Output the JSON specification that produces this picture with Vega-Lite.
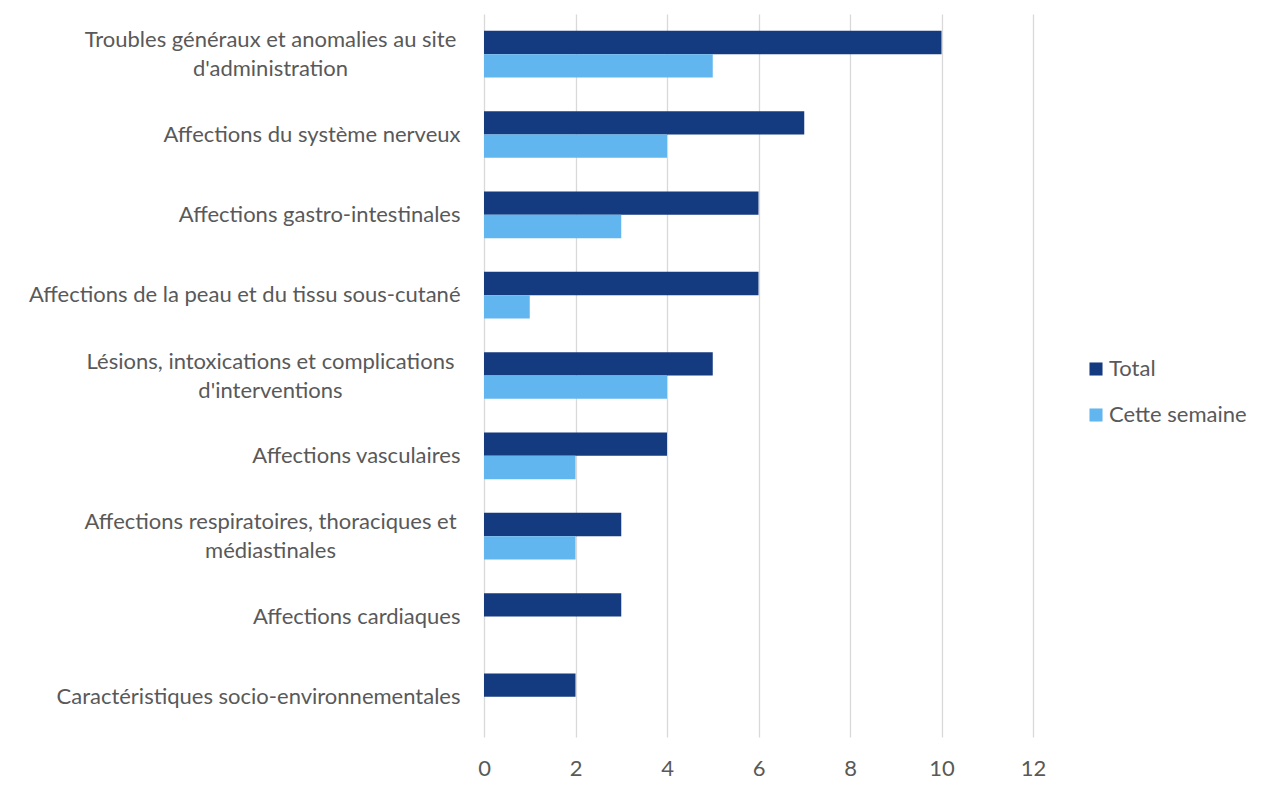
{
  "$schema": "https://vega.github.io/schema/vega-lite/v6.json",
  "width": 549,
  "height": 723,
  "autosize": {"type": "none"},
  "padding": {"left": 484, "top": 14, "right": 230, "bottom": 55},
  "background": "white",
  "config": {
    "view": {"stroke": null},
    "font": "Lato",
    "axis": {"labelColor": "#595959", "labelFont": "Lato", "labelFontSize": 22},
    "legend": {"labelColor": "#595959", "labelFont": "Lato", "labelFontSize": 22}
  },
  "data": {
    "values": [
      {"categorie": "Troubles généraux et anomalies au site d'administration", "serie": "Total", "valeur": 10},
      {"categorie": "Troubles généraux et anomalies au site d'administration", "serie": "Cette semaine", "valeur": 5},
      {"categorie": "Affections du système nerveux", "serie": "Total", "valeur": 7},
      {"categorie": "Affections du système nerveux", "serie": "Cette semaine", "valeur": 4},
      {"categorie": "Affections gastro-intestinales", "serie": "Total", "valeur": 6},
      {"categorie": "Affections gastro-intestinales", "serie": "Cette semaine", "valeur": 3},
      {"categorie": "Affections de la peau et du tissu sous-cutané", "serie": "Total", "valeur": 6},
      {"categorie": "Affections de la peau et du tissu sous-cutané", "serie": "Cette semaine", "valeur": 1},
      {"categorie": "Lésions, intoxications et complications d'interventions", "serie": "Total", "valeur": 5},
      {"categorie": "Lésions, intoxications et complications d'interventions", "serie": "Cette semaine", "valeur": 4},
      {"categorie": "Affections vasculaires", "serie": "Total", "valeur": 4},
      {"categorie": "Affections vasculaires", "serie": "Cette semaine", "valeur": 2},
      {"categorie": "Affections respiratoires, thoraciques et médiastinales", "serie": "Total", "valeur": 3},
      {"categorie": "Affections respiratoires, thoraciques et médiastinales", "serie": "Cette semaine", "valeur": 2},
      {"categorie": "Affections cardiaques", "serie": "Total", "valeur": 3},
      {"categorie": "Affections cardiaques", "serie": "Cette semaine", "valeur": 0},
      {"categorie": "Caractéristiques socio-environnementales", "serie": "Total", "valeur": 2},
      {"categorie": "Caractéristiques socio-environnementales", "serie": "Cette semaine", "valeur": 0}
    ]
  },
  "mark": {"type": "bar"},
  "encoding": {
    "y": {
      "field": "categorie",
      "type": "nominal",
      "sort": null,
      "scale": {"paddingInner": 0.42, "paddingOuter": 0.21},
      "axis": {
        "title": null,
        "domain": false,
        "ticks": false,
        "grid": false,
        "labelLimit": 0,
        "labelLineHeight": 29,
        "labelBaseline": "middle",
        "labelExpr": "indexof(datum.value, 'Troubles') == 0 ? ['Troubles généraux et anomalies au site', \"d'administration\"] : indexof(datum.value, 'Lésions') == 0 ? ['Lésions, intoxications et complications', \"d'interventions\"] : indexof(datum.value, 'respiratoires') > 0 ? ['Affections respiratoires, thoraciques et', 'médiastinales'] : datum.value",
        "labelAlign": {"condition": {"test": "indexof(datum.value, 'Troubles') == 0 || indexof(datum.value, 'Lésions') == 0 || indexof(datum.value, 'respiratoires') > 0", "value": "center"}, "value": "right"},
        "labelPadding": {"condition": {"test": "indexof(datum.value, 'Troubles') == 0 || indexof(datum.value, 'Lésions') == 0 || indexof(datum.value, 'respiratoires') > 0", "value": 214}, "value": 24},
        "labelOffset": {"condition": {"test": "indexof(datum.value, 'Troubles') == 0 || indexof(datum.value, 'Lésions') == 0 || indexof(datum.value, 'respiratoires') > 0", "value": -14}, "value": 0}
      }
    },
    "yOffset": {"field": "serie", "type": "nominal", "sort": ["Total", "Cette semaine"], "scale": {"paddingInner": 0}},
    "x": {
      "field": "valeur",
      "type": "quantitative",
      "scale": {"domain": [0, 12], "nice": false},
      "axis": {
        "title": null,
        "values": [0, 2, 4, 6, 8, 10, 12],
        "domain": false,
        "ticks": false,
        "grid": true,
        "gridColor": "#D9D9D9",
        "gridWidth": 1.3,
        "labelPadding": 21,
        "labelFlush": false
      }
    },
    "color": {
      "field": "serie",
      "type": "nominal",
      "sort": ["Total", "Cette semaine"],
      "scale": {"domain": ["Total", "Cette semaine"], "range": ["#143A80", "#62B6EF"]},
      "legend": {
        "title": null,
        "orient": "none",
        "legendX": 601,
        "legendY": 344,
        "symbolType": "square",
        "symbolSize": 170,
        "symbolStrokeWidth": 0,
        "rowPadding": 24,
        "labelOffset": 2
      }
    }
  }
}
